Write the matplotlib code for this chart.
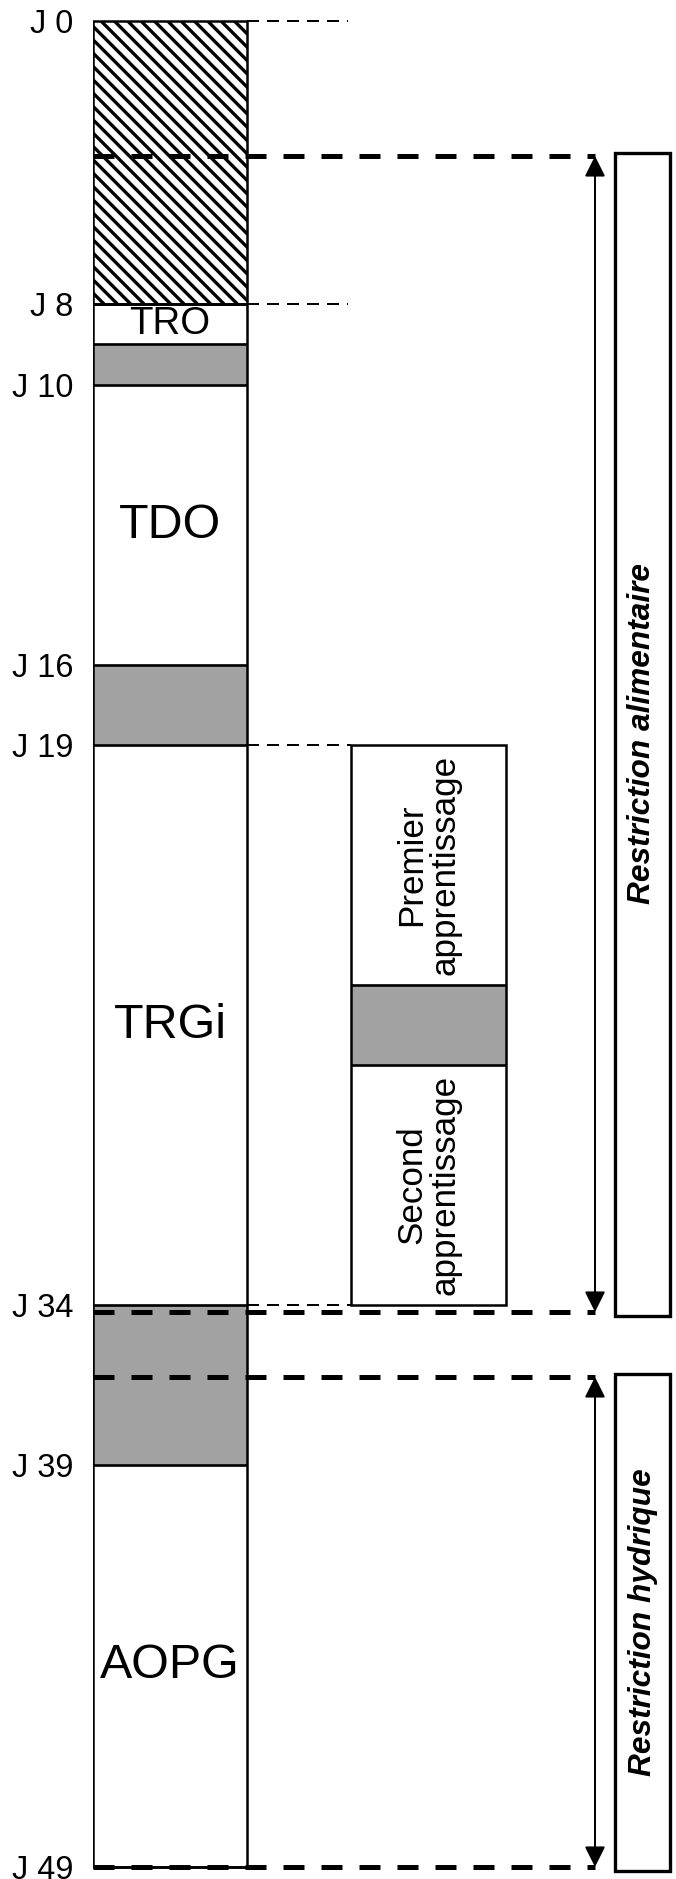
"""Timeline of the protocol: phases, rest periods and restriction windows."""

import matplotlib
matplotlib.use("Agg")
import matplotlib.pyplot as plt

plt.rcParams['font.family'] = ['Liberation Sans', 'DejaVu Sans']
plt.rcParams['hatch.linewidth'] = 2.0

# position of each day mark on the schematic timeline (J 0 at top)
days = ['J 0', 'J 8', 'J 10', 'J 16', 'J 19', 'J 34', 'J 39', 'J 49']
day_pos = [0, 283, 364, 644, 724, 1284, 1444, 1846]

# phases
phases = ['TRO', 'TDO', 'TRGi', 'AOPG']
phase_start = [283, 364, 724, 1444]
phase_end = [323, 644, 1284, 1846]
phase_size = [23, 29, 29, 29]

# grey rest periods
rest_start = [323, 644, 1284]
rest_end = [364, 724, 1444]

# hatched block before TRO
habit_start, habit_end = 0, 283

# learning sessions inside TRGi
learning = ['Premier\napprentissage', 'Second\napprentissage']
learn_start = [724, 1044]
learn_end = [964, 1284]
learn_rest = (964, 1044)

# restriction windows
restrictions = ['Restriction alimentaire', 'Restriction hydrique']
restr_start = [135, 1356]
restr_end = [1291, 1846]

GREY = '#a2a2a2'
HEAVY = (0, (4.2, 3.4))
LIGHT = (0, (6, 4))

fig = plt.figure(figsize=(676 / 120, 1879 / 120), dpi=120)
ax = fig.add_axes([93 / 676, 0, 583 / 676, 1])
ax.set_xlim(93, 676)
ax.set_ylim(1858, -21)
for s in ax.spines.values():
    s.set_visible(False)
ax.set_xticks([])
ax.set_yticks(day_pos, days)
ax.tick_params(axis='y', length=0, pad=12, labelsize=19.5)

col_x, col_w = 170, 154
sub_x, sub_w = 428.5, 155

# main column
ax.bar(col_x, habit_end - habit_start, col_w, bottom=habit_start,
       facecolor='white', edgecolor='black', hatch='\\\\\\', lw=0)
for a, b in zip(rest_start, rest_end):
    ax.bar(col_x, b - a, col_w, bottom=a, color=GREY, lw=0)
ax.bar(col_x, day_pos[-1] - day_pos[0], col_w, bottom=day_pos[0],
       fill=False, edgecolor='black', lw=1.5)
ax.hlines(sorted(set(phase_start + phase_end + rest_start + rest_end)) + [habit_end],
          col_x - col_w / 2, col_x + col_w / 2, color='black', lw=1.6)
for name, a, b, fs in zip(phases, phase_start, phase_end, phase_size):
    ax.text(col_x, (a + b) / 2, name, fontsize=fs, ha='center', va='center')

# learning box
ax.bar(sub_x, learn_rest[1] - learn_rest[0], sub_w, bottom=learn_rest[0],
       color=GREY, lw=0)
ax.bar(sub_x, learn_end[-1] - learn_start[0], sub_w, bottom=learn_start[0],
       fill=False, edgecolor='black', lw=1.5)
ax.hlines(learn_rest, sub_x - sub_w / 2, sub_x + sub_w / 2, color='black', lw=1.6)
for name, a, b in zip(learning, learn_start, learn_end):
    ax.text(sub_x, (a + b) / 2, name, fontsize=21, rotation=90,
            ha='center', va='center', linespacing=1.0, multialignment='center')

# thin dashed guides
ax.hlines(day_pos[:2], 247, 348, color='black', lw=1.2, linestyle=LIGHT)
ax.hlines([day_pos[4], day_pos[5]], 247, 351, color='black', lw=1.2, linestyle=LIGHT)

# restriction windows
arrow_x = 595
box_x0, box_x1 = 615, 670
for name, a, b in zip(restrictions, restr_start, restr_end):
    ax.hlines([a, b], 93, arrow_x, color='black', lw=3, linestyle=HEAVY, zorder=5)
    ax.annotate('', xy=(arrow_x, a), xytext=(arrow_x, b),
                arrowprops=dict(arrowstyle='<|-|>', color='black', lw=1.2,
                                mutation_scale=26, shrinkA=0, shrinkB=0))
    ax.add_patch(plt.Rectangle((box_x0, a - 3), box_x1 - box_x0, b - a + 7,
                               fill=False, edgecolor='black', lw=2,
                               clip_on=False))
    ax.text((box_x0 + box_x1) / 2, (a + b) / 2, name, rotation=90,
            fontsize=19, fontweight='bold', fontstyle='italic',
            ha='center', va='center')

fig.savefig('out.png', dpi=120)
